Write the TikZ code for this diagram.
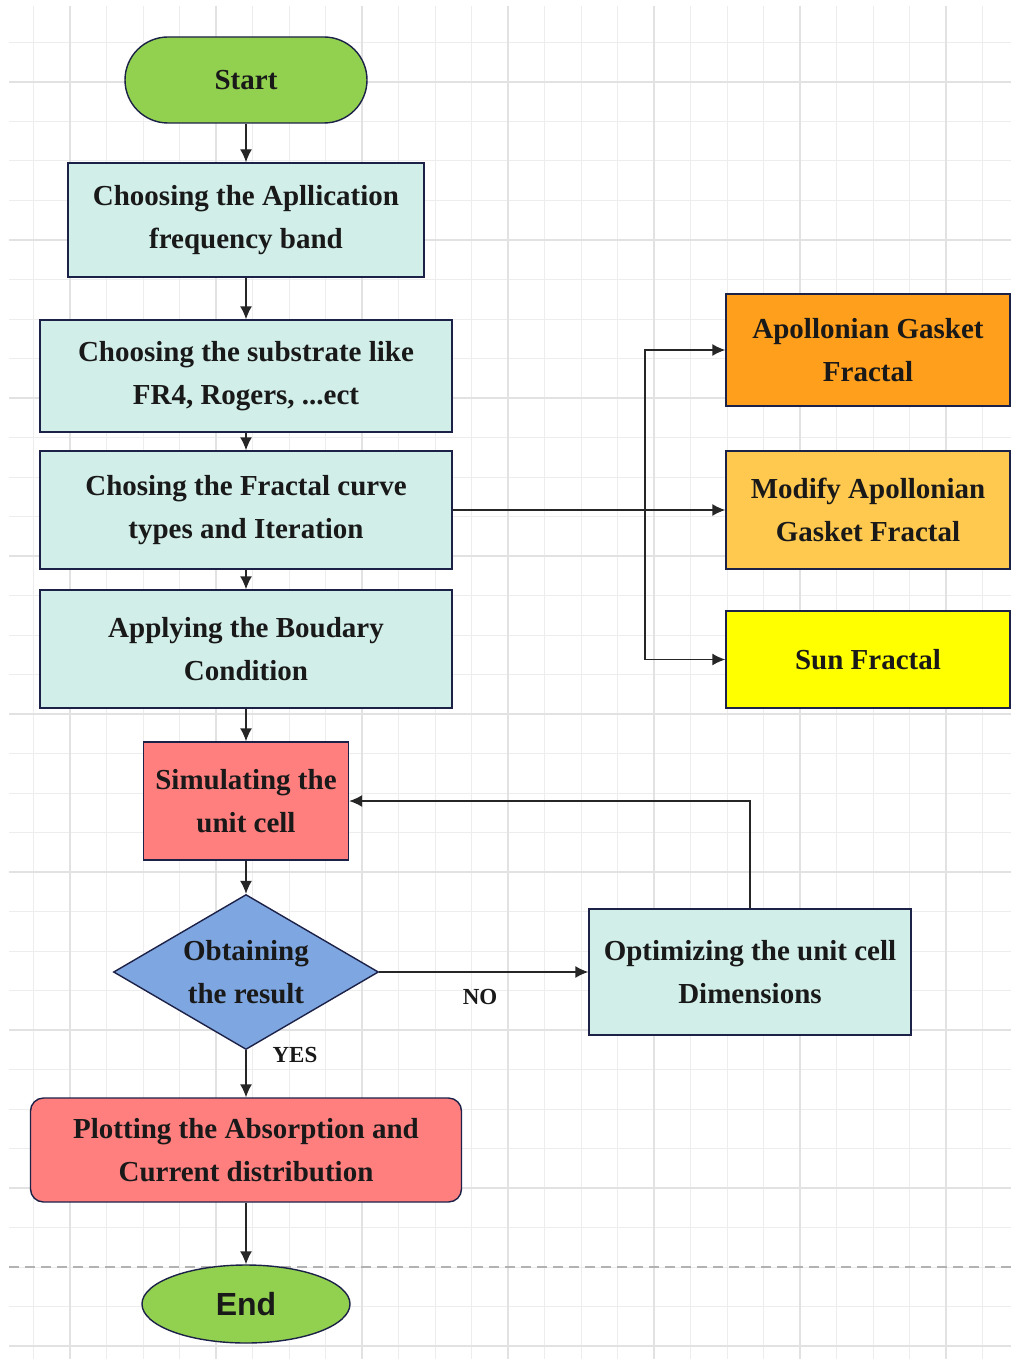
\documentclass[tikz,border=0pt]{standalone}
\usepackage{fontspec}
\setmainfont{Liberation Serif}
\newfontfamily\endfont{Liberation Sans}
\usepackage{tikz}
\usetikzlibrary{shapes.geometric, arrows.meta, positioning}

\definecolor{startgreen}{HTML}{92D050}
\definecolor{stepcyan}{HTML}{D1EEE8}
\definecolor{simred}{HTML}{FF7F7F}
\definecolor{testblue}{HTML}{7EA6E0}
\definecolor{fracorange}{HTML}{FF9F1C}
\definecolor{fraclight}{HTML}{FFC94F}
\definecolor{fracyellow}{HTML}{FFFF00}
\definecolor{edgenavy}{HTML}{1C2148}
\definecolor{gridminor}{HTML}{EDEDED}
\definecolor{gridmajor}{HTML}{E2E2E2}

\tikzset{
  boxtext/.style={font=\bfseries\fontsize{29}{43}\selectfont, align=center, text=black!90},
  stepbox/.style={boxtext, rectangle, draw=edgenavy, line width=1.4pt, fill=stepcyan, inner sep=0pt},
  fracbox/.style={stepbox, minimum width=284pt},
  flow/.style={draw=black!85, line width=1.4pt, -{Latex[length=13pt,width=12pt]}},
  lbl/.style={font=\bfseries\fontsize{23}{27}\selectfont, text=black!90}
}

\begin{document}
\begin{tikzpicture}[x=1pt, y=-1pt]
  \useasboundingbox (0,0) rectangle (1011,1359);
  \fill[white] (0,0) rectangle (1011,1359);
  \foreach \k in {-13,...,13}
    \draw[gridminor, line width=1pt] ({508+36.5*\k},6) -- ({508+36.5*\k},1359);
  \foreach \k in {0,...,33}
    \draw[gridminor, line width=1pt] (9,{1346-39.5*\k}) -- (1011,{1346-39.5*\k});
  \foreach \k in {-3,...,3}
    \draw[gridmajor, line width=1.5pt] ({508+146*\k},6) -- ({508+146*\k},1359);
  \foreach \k in {0,...,8}
    \draw[gridmajor, line width=1.5pt] (9,{1346-158*\k}) -- (1011,{1346-158*\k});
  \draw[black!30, line width=1.2pt, dash pattern=on 10pt off 6pt] (9,1267) -- (1011,1267);

  \node[stepbox, fill=startgreen, rounded corners=43pt, minimum width=242pt, minimum height=86pt] (start) at (246,80) {Start};
  \node[stepbox, minimum width=356pt, minimum height=114pt] (band) at (246,220) {Choosing the Apllication\\frequency band};
  \node[stepbox, minimum width=412pt, minimum height=112pt] (substrate) at (246,376) {Choosing the substrate like\\FR4, Rogers, ...ect};
  \node[stepbox, minimum width=412pt, minimum height=118pt] (curve) at (246,510) {Chosing the Fractal curve\\types and Iteration};
  \node[stepbox, minimum width=412pt, minimum height=118pt] (boundary) at (246,649) {Applying the Boudary\\Condition};
  \node[stepbox, fill=simred, minimum width=205pt, minimum height=118pt] (simulate) at (246,801) {Simulating the\\unit cell};
  \node[stepbox, diamond, fill=testblue, shape aspect=1.71, minimum width=265pt, minimum height=155pt] (result) at (246,972) {Obtaining\\the result};
  \node[stepbox, minimum width=322pt, minimum height=126pt] (optimize) at (750,972) {Optimizing the unit cell\\Dimensions};
  \node[stepbox, fill=simred, rounded corners=13pt, minimum width=431pt, minimum height=104pt] (plot) at (246,1150) {Plotting the Absorption and\\Current distribution};
  \node[stepbox, ellipse, fill=startgreen, minimum width=208pt, minimum height=78pt, font=\endfont\bfseries\fontsize{32}{40}\selectfont] (finish) at (246,1304) {End};

  \node[fracbox, fill=fracorange, minimum height=112pt] (apollo) at (868,350) {Apollonian Gasket\\Fractal};
  \node[fracbox, fill=fraclight, minimum height=118pt] (modapollo) at (868,510) {Modify Apollonian\\Gasket Fractal};
  \node[fracbox, fill=fracyellow, minimum height=97pt] (sun) at (868,659.5) {Sun Fractal};

  \draw[flow] (start) -- (band);
  \draw[flow] (band) -- (substrate);
  \draw[flow] (substrate) -- (curve);
  \draw[flow] (curve) -- (boundary);
  \draw[flow] (boundary) -- (simulate);
  \draw[flow] (simulate) -- (result);
  \draw[flow] (result) -- (plot);
  \draw[flow] (plot) -- (finish);
  \draw[flow] (result.east) -- (optimize.west);
  \draw[flow] (optimize.north) |- (simulate.east);

  \coordinate (branch) at (645,510);
  \draw[flow] (curve.east) -- (modapollo.west);
  \draw[flow] (branch) |- (apollo.west);
  \draw[flow] (branch) |- (sun.west);

  \node[lbl] (yes) at (295,1055) {YES};
  \node[lbl] (no) at (480,997) {NO};
\end{tikzpicture}
\end{document}
